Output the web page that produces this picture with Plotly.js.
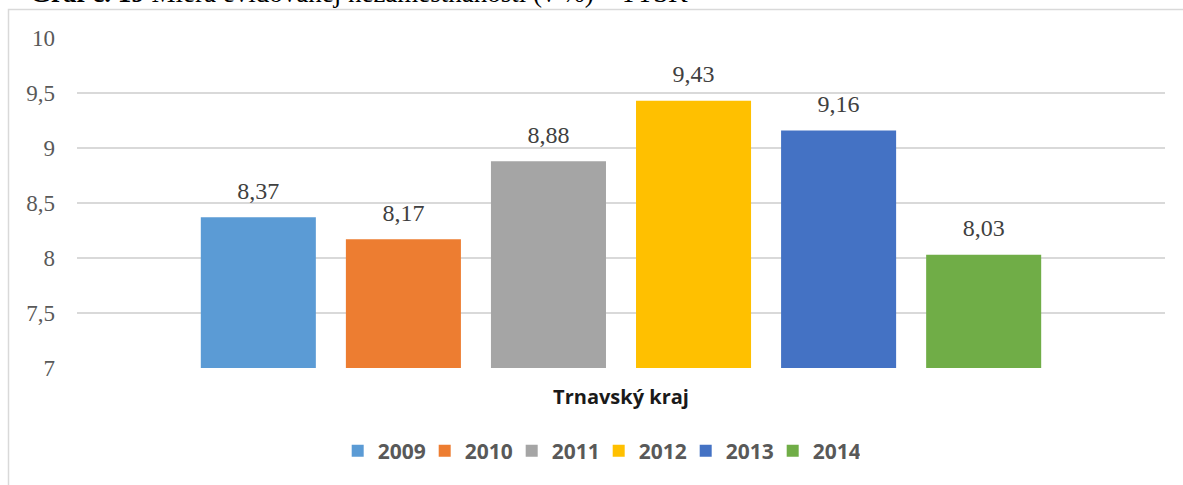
<!DOCTYPE html>
<html>
<head>
<meta charset="utf-8">
<script src="https://cdn.plot.ly/plotly-3.0.1.min.js"></script>
<style>
  html, body { margin: 0; padding: 0; background: #ffffff; }
  #chart { width: 1183px; height: 485px; }
</style>
</head>
<body>
<div id="chart"></div>
<script>
// ---- data ----
const years = ['2009', '2010', '2011', '2012', '2013', '2014'];
const values = [8.37, 8.17, 8.88, 9.43, 9.16, 8.03];
const category = 'Trnavský kraj';
const yTickValues = [7, 7.5, 8, 8.5, 9, 9.5, 10];
const titleBold = 'Graf č. 19';
const titleRest = ' Miera evidovanej nezamestnanosti (v %) – TTSK';

// ---- styles ----
const colors = ['#5B9BD5', '#ED7D31', '#A5A5A5', '#FFC000', '#4472C4', '#70AD47'];
const serif = 'Liberation Serif, Times New Roman, serif';
const sans = 'Open Sans, Liberation Sans, sans-serif';

const barTraces = years.map((yr, i) => ({
  type: 'bar',
  name: yr,
  x: [category],
  y: [values[i]],
  marker: { color: colors[i] },
  offsetgroup: yr,
  hoverinfo: 'skip'
}));

// value labels, grouped like the bars
const labelTraces = years.map((yr, i) => ({
  type: 'scatter',
  mode: 'markers+text',
  name: yr + ' label',
  x: [category],
  y: [values[i]],
  offsetgroup: yr,
  marker: { size: 18, opacity: 0, color: colors[i] },
  texttemplate: '%{y:.2f}',
  textposition: 'top center',
  textfont: { family: serif, size: 24, color: '#404040' },
  cliponaxis: false,
  showlegend: false,
  hoverinfo: 'skip'
}));

const layout = {
  width: 1183,
  height: 485,
  margin: { l: 77, r: 18, t: 38, b: 117 },
  paper_bgcolor: '#ffffff',
  plot_bgcolor: '#ffffff',
  separators: ', ',
  barmode: 'group',
  bargap: 0.2,
  bargroupgap: 0.207,
  scattermode: 'group',
  scattergap: 0.2,
  showlegend: true,
  xaxis: {
    type: 'category',
    showgrid: false,
    showline: false,
    zeroline: false,
    ticks: '',
    ticklabelstandoff: 15,
    tickfont: { family: sans, size: 20, color: '#1a1a1a', weight: 'bold' },
    fixedrange: true
  },
  yaxis: {
    range: [7, 10],
    tickvals: yTickValues,
    showgrid: true,
    gridcolor: '#d9d9d9',
    gridwidth: 1.5,
    zeroline: false,
    showline: false,
    ticks: '',
    ticklabelstandoff: 21,
    tickfont: { family: serif, size: 23, color: '#595959' },
    fixedrange: true
  },
  legend: {
    orientation: 'h',
    x: 0.4795,
    xanchor: 'center',
    y: -0.2515,
    yanchor: 'middle',
    itemwidth: 30,
    entrywidth: 42,
    font: { family: sans, size: 21, color: '#595959', weight: 'bold' },
    traceorder: 'normal'
  },
  shapes: [{
    type: 'rect',
    xref: 'paper', yref: 'paper',
    x0: (8.5 - 77) / 1088, x1: 1.05,
    y0: -0.5, y1: (368 - 9.5) / 330,
    line: { color: '#d9d9d9', width: 1.5 },
    fillcolor: 'rgba(0,0,0,0)',
    layer: 'below'
  }],
  annotations: [{
    xref: 'paper', yref: 'paper',
    x: (28 - 77) / 1088, xanchor: 'left',
    y: (368 + 7) / 330, yanchor: 'middle',
    text: '<b>' + titleBold + '</b>' + titleRest,
    showarrow: false,
    font: { family: serif, size: 27, color: '#000000' }
  }]
};

Plotly.newPlot('chart', barTraces.concat(labelTraces), layout, { displayModeBar: false, staticPlot: true });
</script>
</body>
</html>
